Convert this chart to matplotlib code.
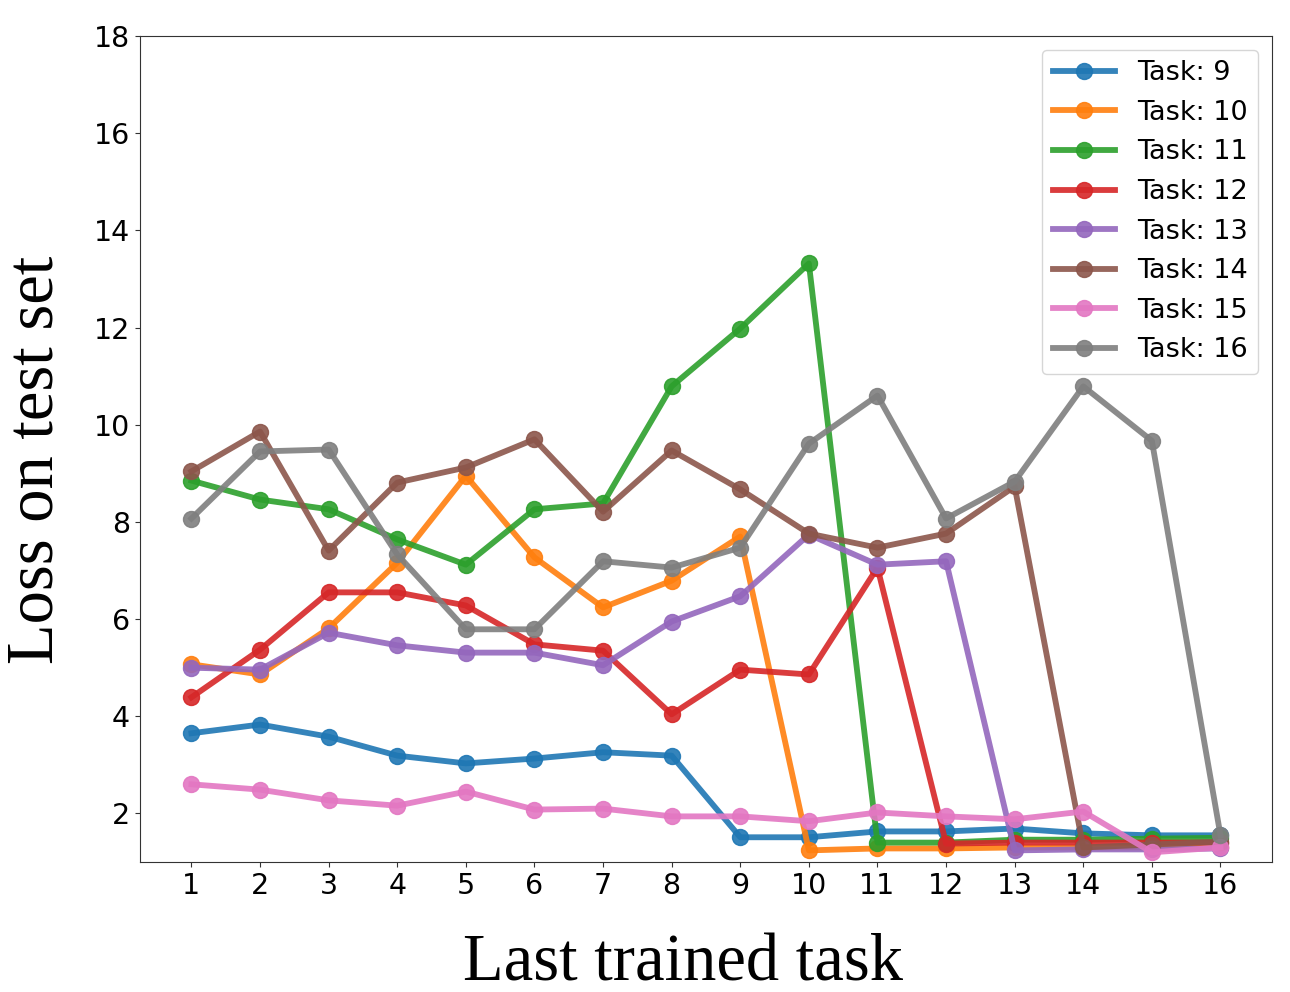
import numpy as np
import matplotlib
matplotlib.use("Agg")
import matplotlib.pyplot as plt

# last trained task on the x axis
last_task = list(range(1, 17))

# loss on test set for each evaluated task
task_labels = ["Task: 9", "Task: 10", "Task: 11", "Task: 12",
               "Task: 13", "Task: 14", "Task: 15", "Task: 16"]

loss_t9 = [3.65, 3.83, 3.58, 3.19, 3.03, 3.13, 3.26, 3.19,
           1.51, 1.51, 1.63, 1.63, 1.69, 1.59, 1.55, 1.55]
loss_t10 = [5.07, 4.86, 5.81, 7.16, 8.95, 7.27, 6.24, 6.79,
            7.70, 1.24, 1.28, 1.28, 1.30, 1.30, 1.30, 1.30]
loss_t11 = [8.85, 8.46, 8.26, 7.64, 7.12, 8.26, 8.38, 10.79,
            11.98, 13.32, 1.40, 1.40, 1.46, 1.46, 1.48, 1.50]
loss_t12 = [4.39, 5.37, 6.55, 6.55, 6.28, 5.48, 5.35, 4.04,
            4.96, 4.86, 7.06, 1.38, 1.40, 1.40, 1.40, 1.40]
loss_t13 = [5.00, 4.96, 5.72, 5.46, 5.31, 5.31, 5.05, 5.95,
            6.47, 7.74, 7.12, 7.19, 1.24, 1.26, 1.26, 1.28]
loss_t14 = [9.04, 9.86, 7.41, 8.81, 9.12, 9.70, 8.21, 9.47,
            8.67, 7.76, 7.47, 7.76, 8.73, 1.30, 1.36, 1.42]
loss_t15 = [2.60, 2.49, 2.27, 2.16, 2.45, 2.08, 2.10, 1.94,
            1.94, 1.84, 2.02, 1.94, 1.88, 2.04, 1.20, 1.30]
loss_t16 = [8.07, 9.45, 9.49, 7.33, 5.79, 5.79, 7.19, 7.06,
            7.47, 9.61, 10.60, 8.07, 8.83, 10.79, 9.67, 1.55]

all_losses = [loss_t9, loss_t10, loss_t11, loss_t12,
              loss_t13, loss_t14, loss_t15, loss_t16]

fig = plt.figure(figsize=(12.9, 9.92), dpi=100)
ax = fig.add_axes([0.1085, 0.131, 0.8775, 0.8327])

for losses, label in zip(all_losses, task_labels):
    ax.plot(last_task, losses, marker='o', linewidth=4.2, markersize=11.5,
            alpha=0.9, label=label)

ax.set_ylim(1.0, 18)
ax.set_yticks(np.arange(2, 19, 2))
ax.set_xticks(last_task)
ax.tick_params(labelsize=20.5, color='#333333')
for sp in ax.spines.values():
    sp.set_color('#333333')

ax.set_xlabel("Last trained task", family="Liberation Serif", fontsize=48, labelpad=24)
ax.set_ylabel("Loss on test set", family="Liberation Serif", fontsize=48, labelpad=20)
ax.xaxis.label.set_x(0.48)
ax.yaxis.label.set_y(0.487)

ax.legend(loc='upper right', fontsize=19.5, handlelength=2.3)

plt.savefig('out.png', dpi=100)
